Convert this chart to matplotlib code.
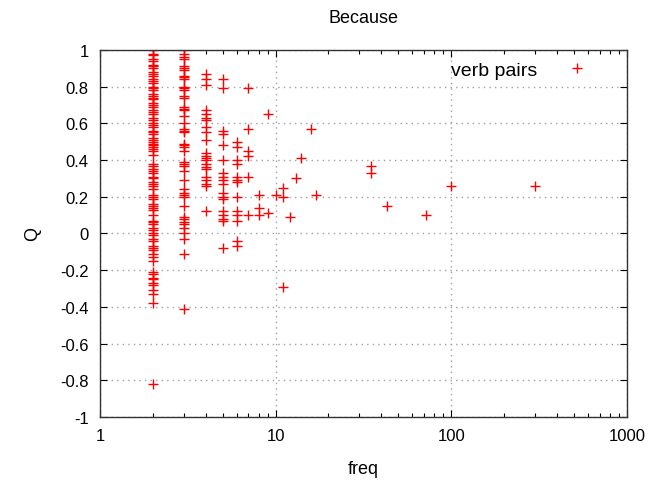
import numpy as np
import matplotlib
matplotlib.use("Agg")
import matplotlib.pyplot as plt
from matplotlib.ticker import FixedLocator, LogLocator, NullFormatter

plt.rcParams['font.family'] = ['Liberation Sans', 'DejaVu Sans']

##data: Q values per frequency
q_f2 = [1.0, 0.98, 0.97, 0.95, 0.94, 0.92, 0.91, 0.9, 0.88, 0.87, 0.86, 0.84,
        0.83, 0.82, 0.8, 0.79, 0.78, 0.76, 0.75, 0.74, 0.73, 0.71, 0.7, 0.69,
        0.67, 0.66, 0.65, 0.63, 0.62, 0.6, 0.59, 0.58, 0.56, 0.55, 0.54, 0.52,
        0.51, 0.5, 0.49, 0.48, 0.47, 0.46, 0.45, 0.43,
        0.38, 0.37, 0.35, 0.34, 0.33, 0.31, 0.3, 0.28, 0.27, 0.26, 0.24, 0.21,
        0.2, 0.19, 0.16, 0.15, 0.14, 0.13, 0.1, 0.07, 0.06, 0.05, 0.03, 0.02,
        0.0, -0.01, -0.03, -0.04, -0.07, -0.08, -0.09, -0.11, -0.13, -0.15,
        -0.21, -0.22, -0.24, -0.25, -0.27, -0.28, -0.31, -0.33, -0.38, -0.82]
q_f3 = [1.0, 0.98, 0.96, 0.95, 0.91, 0.9, 0.89, 0.86, 0.85, 0.84, 0.8, 0.79,
        0.78, 0.75, 0.74, 0.69, 0.68, 0.67, 0.64, 0.6, 0.57, 0.56, 0.55, 0.49,
        0.48, 0.47, 0.45, 0.39, 0.38, 0.37, 0.34, 0.29, 0.24, 0.22, 0.21, 0.2,
        0.15, 0.09, 0.08, 0.06, 0.05, 0.03, 0.0, -0.03, -0.11, -0.41]
q_f4 = [0.87, 0.84, 0.81, 0.67, 0.65, 0.63, 0.62, 0.58, 0.55, 0.51, 0.44, 0.42,
        0.41, 0.4, 0.38, 0.36, 0.35, 0.31, 0.29, 0.27, 0.26, 0.12]
q_f5 = [0.84, 0.79, 0.56, 0.54, 0.48, 0.4, 0.33, 0.31, 0.29, 0.27, 0.22, 0.2,
        0.19, 0.12, 0.1, 0.08, 0.07, -0.08]
q_f6 = [0.5, 0.47, 0.4, 0.38, 0.31, 0.29, 0.28, 0.2, 0.12, 0.1, 0.07, -0.04, -0.07]
q_f7 = [0.79, 0.57, 0.45, 0.42, 0.31, 0.1]

##sparse high-frequency pairs
freq_rest = [8, 8, 8, 9, 9, 10, 11, 11, 11, 12, 13, 14, 16, 17, 35, 35, 43, 72, 99, 300]
q_rest = [0.21, 0.14, 0.1, 0.65, 0.11, 0.21, 0.25, 0.2, -0.29, 0.09, 0.3, 0.41,
          0.57, 0.21, 0.37, 0.33, 0.15, 0.1, 0.26, 0.26]

freq = ([2] * len(q_f2) + [3] * len(q_f3) + [4] * len(q_f4) + [5] * len(q_f5)
        + [6] * len(q_f6) + [7] * len(q_f7) + freq_rest)
q = q_f2 + q_f3 + q_f4 + q_f5 + q_f6 + q_f7 + q_rest

##set up the plot
fig = plt.figure(figsize=(6.49, 4.89), dpi=100)
ax = fig.add_axes([0.154, 0.145, 0.812, 0.751])

ax.plot(freq, q, '+', color='red', markersize=7, markeredgewidth=1.0,
        linestyle='none', label='verb pairs')

ax.set_xscale('log')
ax.set_xlim(1, 1000)
ax.set_ylim(-1, 1)

ax.xaxis.set_major_locator(FixedLocator([1, 10, 100, 1000]))
ax.xaxis.set_major_formatter(matplotlib.ticker.FixedFormatter(['1', '10', '100', '1000']))
ax.xaxis.set_minor_locator(LogLocator(base=10, subs=np.arange(2, 10)))
ax.xaxis.set_minor_formatter(NullFormatter())
ax.set_yticks(np.arange(-1, 1.01, 0.2))
ax.set_yticklabels(['-1', '-0.8', '-0.6', '-0.4', '-0.2', '0', '0.2', '0.4', '0.6', '0.8', '1'])

ax.tick_params(which='both', direction='in', top=True, right=True, labelsize=12, pad=8)
ax.tick_params(which='major', length=5, width=0.8)
ax.tick_params(which='minor', length=3, width=0.8)

ax.grid(True, which='major', linestyle=(0, (1, 3)), color='#a0a0a0', linewidth=1)

for s in ax.spines.values():
    s.set_linewidth(1)
    s.set_color('#333333')

ax.set_title('Because', fontsize=13, pad=20)
ax.set_xlabel('freq', fontsize=13, labelpad=12)
ax.set_ylabel('Q', fontsize=13, labelpad=14)

ax.legend(loc='upper right', markerfirst=False, frameon=False, fontsize=14,
          handlelength=1.5, handletextpad=1.26, borderaxespad=0.4,
          bbox_to_anchor=(0.962, 1.012))

fig.savefig('out.png', dpi=100)
